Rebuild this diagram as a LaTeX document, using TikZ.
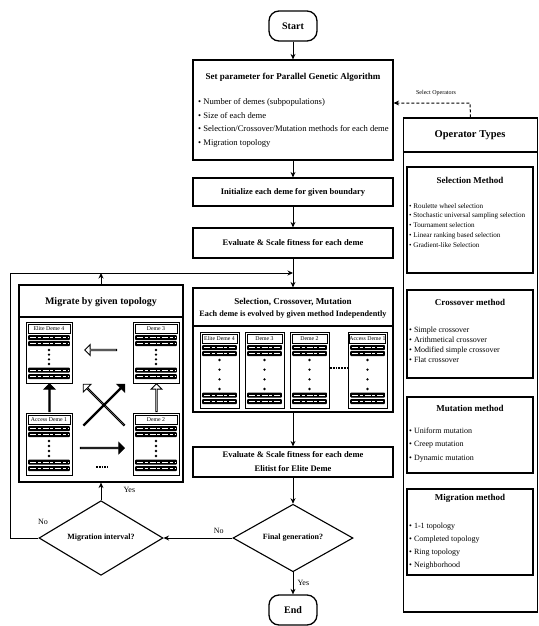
\documentclass[tikz,border=0pt]{standalone}
\usepackage{fontspec}
\setmainfont{Liberation Serif}
\usetikzlibrary{arrows.meta,shapes.geometric,shapes.arrows,calc}
\newcommand\fsz[1]{\fontsize{#1}{#1}\selectfont}
\tikzset{
  box/.style={draw, line width=1.2pt, rectangle, inner sep=0pt},
  opbox/.style={draw, line width=1.4pt, rectangle, inner sep=0pt, minimum width=126pt},
  ttl/.style={font=\fsz{8.5}\bfseries, inner sep=0pt},
  optl/.style={font=\fsz{9}\bfseries, inner sep=0pt},
  lst/.style={align=left, anchor=north west, inner sep=0pt},
  arr/.style={-{Stealth[length=5.5pt,width=5pt]}, line width=1pt},
  term/.style={draw, line width=1.3pt, rounded corners=10pt, minimum width=48pt, minimum height=30pt, inner sep=0pt, font=\fsz{10}\bfseries},
  dia/.style={draw, line width=1.1pt, diamond, inner sep=0pt, font=\fsz{8}\bfseries},
  lab/.style={font=\fsz{8}, inner sep=0pt},
  demefr/.style={draw, line width=1pt, rectangle, inner sep=0pt},
  demelab/.style={draw, line width=0.5pt, fill=white, rectangle, inner sep=0pt, minimum height=8.5pt, font=\fsz{5.8}},
  blk/.style={single arrow, draw, line width=0.9pt, fill=black, inner sep=0pt, single arrow head extend=3pt, single arrow tip angle=90, minimum width=11pt},
  hol/.style={blk, fill=white},
}
\newcommand\demebox[6]{%
  \node[demefr, minimum width=#4pt, minimum height=#5pt, anchor=north] (#1) at (#2,#3) {};
  \begin{scope}[shift={(#1.north west)}]
    \node[demelab, minimum width=#4pt-4pt, anchor=north] (#1-l) at (#4/2,2) {#6};
    \foreach \yy in {15.5,21.5,#5-13,#5-6.5} {
      \fill[rounded corners=0.8pt] (2.2,\yy-2.5) rectangle (#4-2.2,\yy+2.5);
      \draw[white, line width=1pt, dash pattern=on 6pt off 1.5pt on 3pt off 2pt] (4,\yy) -- (#4-4,\yy);
    }
    \foreach \k in {0,...,3} \fill (#4/2, 28+\k*#5/3-\k*47/3) circle (1.3);
  \end{scope}
}
\begin{document}
\begin{tikzpicture}[x=1pt,y=-1pt]
\useasboundingbox (0,0) rectangle (538,626);

% ---------- main column ----------
\node[term] (start) at (293,26) {Start};
\node[box, minimum width=200pt, minimum height=100pt] (setp) at (293,110) {};
\node[ttl, font=\fsz{9}\bfseries] (setpt) at (293,77) {Set parameter for Parallel Genetic Algorithm};
\node[lst, font=\fontsize{8.6}{13.6}\selectfont] (setpl) at (198,98.5)
  {\textbullet\ Number of demes (subpopulations)\\
   \textbullet\ Size of each deme\\
   \textbullet\ Selection/Crossover/Mutation methods for each deme\\
   \textbullet\ Migration topology};

\node[box, minimum width=200pt, minimum height=28pt, ttl] (init) at (293,192) {Initialize each deme for given boundary};
\node[box, minimum width=200pt, minimum height=30pt, ttl] (eval1) at (293,243) {Evaluate \& Scale fitness for each deme};

\node[box, minimum width=200pt, minimum height=124pt] (scm) at (293,350) {};
\node[ttl, font=\fsz{9}\bfseries] (scmt) at (293,302) {Selection, Crossover, Mutation};
\node[ttl, font=\fsz{8.2}\bfseries] (scms) at (293,315) {Each deme is evolved by given method Independently};
\draw[line width=1.2pt] (scm.west |- 0,326) -- (scm.east |- 0,326);
\demebox{ce4}{220}{332}{39}{76}{Elite Deme 4}
\demebox{ce3}{265}{332}{39}{76}{Deme 3}
\demebox{ce2}{310}{332}{39}{76}{Deme 2}
\demebox{ce1}{368}{332}{39}{76}{Access Deme 1}
\draw[line width=2.4pt, dash pattern=on 1.8pt off 1pt] (ce2.east |- 0,368) -- (ce1.west |- 0,368);

\node[box, minimum width=200pt, minimum height=30pt, align=center, font=\fontsize{8.5}{14}\selectfont\bfseries] (eval2) at (293,462)
  {Evaluate \& Scale fitness for each deme\\Elitist for Elite Deme};

\node[dia, minimum width=120pt, minimum height=60pt] (fin) at (293,538) {Final generation?};
\node[term] (end) at (293,610) {End};

% ---------- migrate box ----------
\node[box, minimum width=164pt, minimum height=197pt] (migbox) at (101,383.5) {};
\node[ttl, font=\fsz{10}\bfseries] (migt) at (101,302) {Migrate by given topology};
\draw[line width=1.2pt] (migbox.west |- 0,317) -- (migbox.east |- 0,317);
\demebox{me4}{49.5}{322}{46}{61}{Elite Deme 4}
\demebox{me3}{156.5}{322}{46}{61}{Deme 3}
\demebox{me1}{49.5}{413}{46}{62}{Access Deme 1}
\demebox{me2}{156.5}{413}{46}{62}{Deme 2}
\node[hol, minimum height=32pt, shape border rotate=180] (a34) at (101,350) {};
\node[blk, minimum height=28pt, shape border rotate=90] (a14) at (49.5,398) {};
\node[hol, minimum height=28pt, shape border rotate=90] (a23) at (156.5,398) {};
\node[hol, minimum height=58pt, rotate=135] (a24) at (104,405) {};
\node[blk, minimum height=58pt, rotate=45] (a13) at (104,405) {};
\node[blk, minimum height=44pt] (a12) at (102,448) {};
\draw[line width=2.4pt, dash pattern=on 1.8pt off 1pt] (96,467) -- (108,467);

\node[dia, minimum width=124pt, minimum height=60pt] (mig) at (101,538) {Migration interval?};

% ---------- operator types ----------
\node[box, minimum width=134pt, minimum height=494pt] (optypes) at (470.5,365) {};
\node[ttl, font=\fsz{10.5}\bfseries] (optt) at (470,135) {Operator Types};
\draw[line width=1.2pt] (optypes.west |- 0,152) -- (optypes.east |- 0,152);

\node[opbox, minimum height=106pt] (sel) at (470,220) {};
\node[optl] (selt) at (470,180) {Selection Method};
\node[lst, font=\fontsize{7.1}{9.8}\selectfont] (sell) at (409,203)
  {\textbullet\ Roulette wheel selection\\
   \textbullet\ Stochastic universal sampling selection\\
   \textbullet\ Tournament selection\\
   \textbullet\ Linear ranking based selection\\
   \textbullet\ Gradient-like Selection};

\node[opbox, minimum height=88pt] (cro) at (470,334) {};
\node[optl] (crot) at (470,302) {Crossover method};
\node[lst, font=\fontsize{8}{10}\selectfont] (crol) at (409,326.5)
  {\textbullet\ Simple crossover\\
   \textbullet\ Arithmetical crossover\\
   \textbullet\ Modified simple crossover\\
   \textbullet\ Flat crossover};

\node[opbox, minimum height=76pt] (mut) at (470,435) {};
\node[optl] (mutt) at (470,408) {Mutation method};
\node[lst, font=\fontsize{8}{13.5}\selectfont] (mutl) at (409,427.5)
  {\textbullet\ Uniform mutation\\
   \textbullet\ Creep mutation\\
   \textbullet\ Dynamic mutation};

\node[opbox, minimum height=86pt] (mgr) at (470,532) {};
\node[optl] (mgrt) at (470,498) {Migration method};
\node[lst, font=\fontsize{8}{13}\selectfont] (mgrl) at (409,522.5)
  {\textbullet\ 1-1 topology\\
   \textbullet\ Completed topology\\
   \textbullet\ Ring topology\\
   \textbullet\ Neighborhood};

% ---------- connectors ----------
\draw[arr] (start) -- (setp);
\draw[arr] (setp) -- (init);
\draw[arr] (init) -- (eval1);
\draw[arr] (eval1) -- (scm);
\draw[arr] (scm) -- (eval2);
\draw[arr] (eval2) -- (fin);
\draw[arr] (fin) -- node[lab, anchor=west, xshift=4pt] (yes1) {Yes} (end);
\draw[arr] (fin.west) -- node[lab, anchor=south, yshift=4pt, pos=0.2] (no1) {No} (mig.east);
\draw[arr] (mig.north) -- node[lab, anchor=west, xshift=22pt, pos=0.6] (yes2) {Yes} (migbox.south);

\coordinate (lpb) at (10,538);
\coordinate (lpt) at (10,273);
\coordinate (mrg) at (293,273);
\draw[arr] (mig.west) -- (lpb) -- (lpt) -- (mrg);
\node[lab, anchor=south] (no2) at (43,525) {No};
\draw[arr] (migbox.north) -- (migbox.north |- lpt);

\coordinate (selc) at (470,103);
\draw[arr, densely dashed] (optypes.north) -- (selc) -- (setp.east |- selc);
\node[font=\fsz{6}, inner sep=0pt] (selop) at (436,93) {Select Operators};
\end{tikzpicture}
\end{document}
